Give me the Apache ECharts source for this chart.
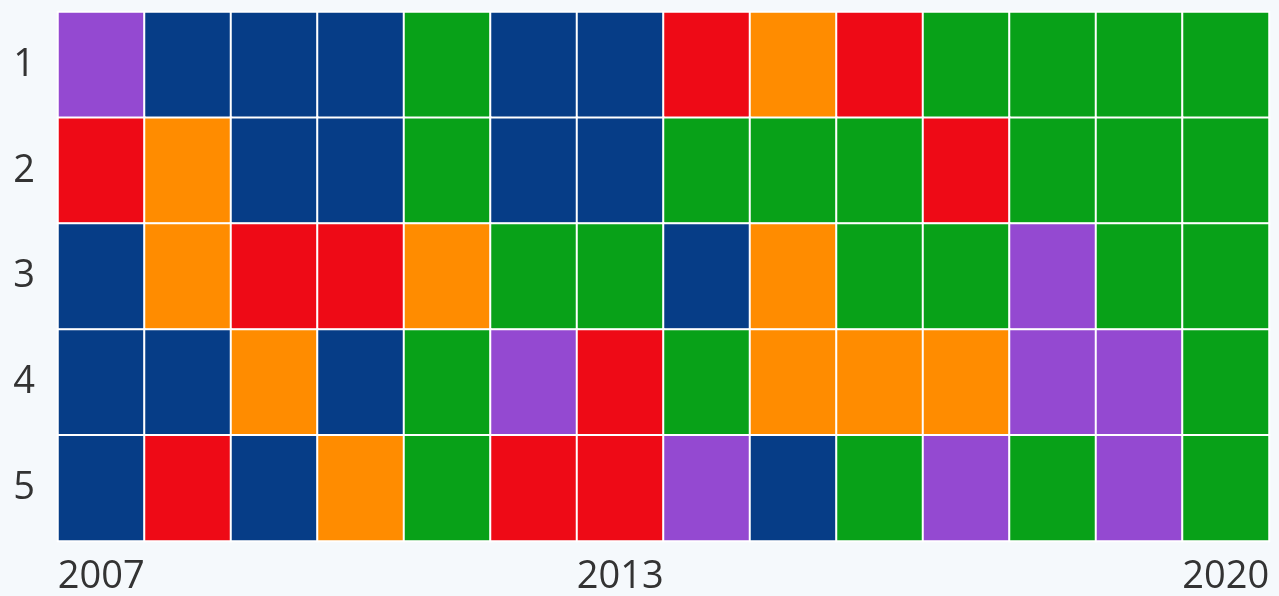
<!DOCTYPE html>
<html>
<head>
<meta charset="utf-8">
<script src="https://cdn.jsdelivr.net/npm/echarts@6/dist/echarts.min.js"></script>
<style>
html,body{margin:0;padding:0;background:#f5f9fc;}
#c{width:1279px;height:596px;}
</style>
</head>
<body>
<div id="c"></div>
<script>
const years = ['2007','2008','2009','2010','2011','2012','2013','2014','2015','2016','2017','2018','2019','2020'];
const rows = ['1','2','3','4','5'];
const shownYears = ['2007','2013','2020'];
// category codes: P purple, B blue, G green, R red, O orange
const categories = ['P','B','G','R','O'];
const categoryColors = ['#9449d1','#063d87','#08a118','#ee0a16','#ff8c00'];
const row1 = ['P','B','B','B','G','B','B','R','O','R','G','G','G','G'];
const row2 = ['R','O','B','B','G','B','B','G','G','G','R','G','G','G'];
const row3 = ['B','O','R','R','O','G','G','B','O','G','G','P','G','G'];
const row4 = ['B','B','O','B','G','P','R','G','O','O','O','P','P','G'];
const row5 = ['B','R','B','O','G','R','R','P','B','G','P','G','P','G'];
const rowValues = [row1,row2,row3,row4,row5];

const data = [];
rowValues.forEach((r, ri) => {
  r.forEach((code, ci) => {
    data.push([ci, ri, categories.indexOf(code)]);
  });
});

const chart = echarts.init(document.getElementById('c'));
chart.setOption({
  backgroundColor: '#f5f9fc',
  animation: false,
  grid: {left: 58, right: 10, top: 12, bottom: 54},
  xAxis: {
    type: 'category',
    data: years,
    axisLine: {show: false},
    axisTick: {show: false},
    splitLine: {show: false},
    axisLabel: {
      interval: 0,
      formatter: v => shownYears.includes(v) ? v : '',
      fontFamily: 'Open Sans',
      fontSize: 38,
      color: '#333',
      margin: 17
    }
  },
  yAxis: {
    type: 'category',
    data: rows,
    inverse: true,
    axisLine: {show: false},
    axisTick: {show: false},
    splitLine: {show: false},
    axisLabel: {
      fontFamily: 'Open Sans',
      fontSize: 38,
      color: '#333',
      margin: 23
    }
  },
  visualMap: {
    type: 'piecewise',
    show: false,
    dimension: 2,
    pieces: categories.map((c, i) => ({value: i, color: categoryColors[i]}))
  },
  series: [{
    type: 'heatmap',
    data: data,
    itemStyle: {borderColor: '#ffffff', borderWidth: 2},
    emphasis: {disabled: true}
  }]
});
</script>
</body>
</html>
